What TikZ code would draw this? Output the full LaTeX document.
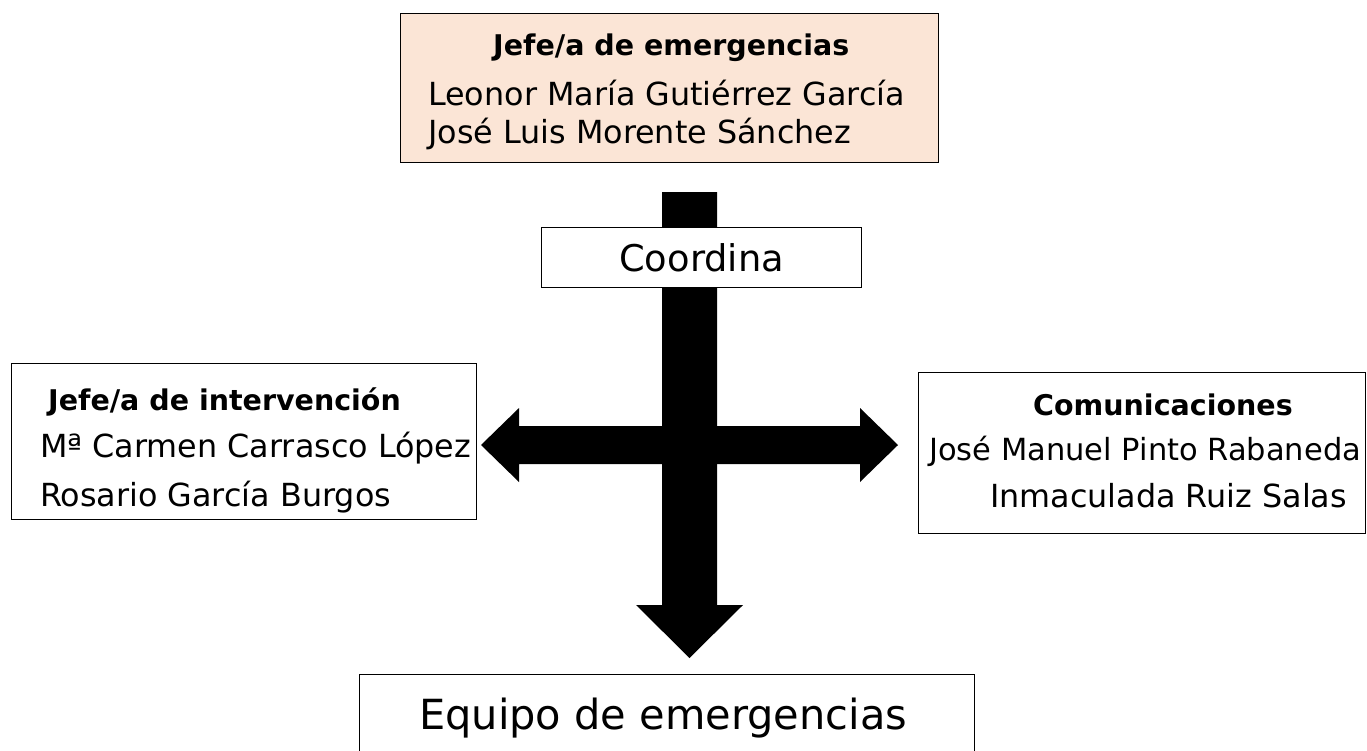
\documentclass[tikz,border=0pt]{standalone}
\usepackage{fontspec}
\setmainfont{DejaVu Sans}
\usepackage{tikz}
\usepackage{xcolor}
\definecolor{peach}{HTML}{FBE5D6}
\newcommand{\namefont}{\fontsize{31.8}{38}\selectfont}
\newcommand{\headfont}{\fontsize{28.5}{34}\selectfont\bfseries}

\begin{document}
\begin{tikzpicture}[x=1pt,y=-1pt,
  box/.style={draw, line width=1.2pt, fill=white, inner sep=0pt, anchor=north west},
  txt/.style={inner sep=0pt, anchor=base west}]
\useasboundingbox (0,0) rectangle (1367,750);

% block arrows
\fill [black] (662,192) -- (717,192) -- (717,605) -- (743,605) -- (689.5,658) -- (636,605) -- (662,605) -- cycle;
\fill [black] (481,445) -- (519,408) -- (519,426) -- (860,426) -- (860,408) -- (898,445) -- (860,482) -- (860,464) -- (519,464) -- (519,482) -- cycle;

\node [box, fill=peach, minimum width=538pt, minimum height=149pt] (jefe) at (400,13) {};
\node [txt] (jefehead) at (493,55) {\headfont Jefe/a de emergencias};
\node [txt] (jefeA) at (428,105) {\namefont Leonor María Gutiérrez García};
\node [txt] (jefeB) at (428,143) {\namefont José Luis Morente Sánchez};

\node [box, minimum width=320pt, minimum height=60pt] (coord) at (541,227) {};
\node [inner sep=0pt] (coordtxt) at (coord.center) {\fontsize{36.8}{44}\selectfont Coordina};

\node [box, minimum width=465pt, minimum height=156pt] (interv) at (11,363) {};
\node [txt] (intervhead) at (48,410) {\headfont Jefe/a de intervención};
\node [txt] (intervA) at (40,457) {\namefont Mª Carmen Carrasco López};
\node [txt] (intervB) at (40,506) {\namefont Rosario García Burgos};

\node [box, minimum width=447pt, minimum height=161pt] (comun) at (918,372) {};
\node [txt] (comunhead) at (1033,415) {\headfont Comunicaciones};
\node [txt] (comunA) at (929,460) {\fontsize{30.5}{38}\selectfont José Manuel Pinto Rabaneda};
\node [txt] (comunB) at (990,507) {\namefont Inmaculada Ruiz Salas};

\node [box, minimum width=615pt, minimum height=110pt] (equipo) at (359,674) {};
\node [txt] (equipotxt) at (419,729) {\fontsize{41.5}{50}\selectfont Equipo de emergencias};

\end{tikzpicture}
\end{document}
